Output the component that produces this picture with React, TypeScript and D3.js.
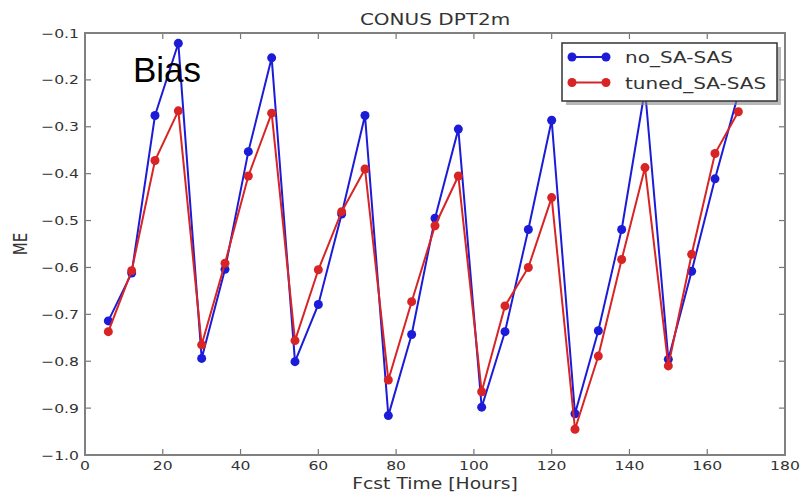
import React from 'react';
import * as d3 from 'd3';

// forecast hours (every 6h)
const hours = [6, 12, 18, 24, 30, 36, 42, 48, 54, 60, 66, 72, 78, 84, 90, 96, 102, 108, 114, 120, 126, 132, 138, 144, 150, 156, 162, 168];

// mean error
const noSaSas = [-0.714, -0.612, -0.276, -0.122, -0.794, -0.604, -0.353, -0.153, -0.801, -0.679, -0.486, -0.276, -0.916, -0.743, -0.495, -0.305, -0.898, -0.737, -0.519, -0.286, -0.912, -0.735, -0.519, -0.22, -0.796, -0.608, -0.411, -0.23];
const tunedSaSas = [-0.737, -0.607, -0.372, -0.266, -0.765, -0.591, -0.405, -0.271, -0.756, -0.605, -0.481, -0.39, -0.84, -0.673, -0.511, -0.405, -0.865, -0.682, -0.6, -0.451, -0.945, -0.789, -0.583, -0.387, -0.81, -0.572, -0.357, -0.268];

const xTicks = [0, 20, 40, 60, 80, 100, 120, 140, 160, 180];
const yTicks = [-1.0, -0.9, -0.8, -0.7, -0.6, -0.5, -0.4, -0.3, -0.2, -0.1];

const seriesList = [
  { name: 'no_SA-SAS', values: noSaSas, color: '#1c1cd8' },
  { name: 'tuned_SA-SAS', values: tunedSaSas, color: '#d82424' },
];

const W = 802;
const H = 498;
const margin = { top: 33, right: 17, bottom: 43, left: 85 };
const SX = 1.25; // the source picture is stretched sideways
const FONT = '"DejaVu Sans", sans-serif';
const TXT = '#333';

const App = () => {
  const x = d3.scaleLinear().domain([0, 180]).range([margin.left, W - margin.right]);
  const y = d3.scaleLinear().domain([-1.0, -0.1]).range([H - margin.bottom, margin.top]);

  const line = d3.line<[number, number]>()
    .x(d => x(d[0]))
    .y(d => y(d[1]));

  const x0 = x(0), x1 = x(180), y0 = y(-1.0), y1 = y(-0.1);
  const tickLen = 6;

  // legend box
  const lg = { x: 562, y: 43, w: 215, h: 58 };

  return (
    <svg width={W} height={H} style={{ position: 'absolute', left: 0, top: 0, background: '#fff' }}>
      {/* series */}
      {seriesList.map(s => {
        const pts = hours.map((h, i) => [h, s.values[i]] as [number, number]);
        return (
          <g key={s.name}>
            <path d={line(pts) || ''} fill="none" stroke={s.color} strokeWidth={2} />
            {pts.map((p, i) => (
              <circle key={i} cx={x(p[0])} cy={y(p[1])} r={4.5} fill={s.color} />
            ))}
          </g>
        );
      })}

      {/* ticks, inward on all sides */}
      <g stroke="#777" strokeWidth={1.2}>
        {xTicks.map(t => (
          <g key={'xt' + t}>
            <line x1={x(t)} x2={x(t)} y1={y0} y2={y0 - tickLen} />
            <line x1={x(t)} x2={x(t)} y1={y1} y2={y1 + tickLen} />
          </g>
        ))}
        {yTicks.map(t => (
          <g key={'yt' + t}>
            <line x1={x0} x2={x0 + tickLen} y1={y(t)} y2={y(t)} />
            <line x1={x1} x2={x1 - tickLen} y1={y(t)} y2={y(t)} />
          </g>
        ))}
      </g>

      {/* frame */}
      <rect x={x0} y={y1} width={x1 - x0} height={y0 - y1} fill="none" stroke="#808080" strokeWidth={2} />

      {/* tick labels */}
      {xTicks.map(t => (
        <text key={'xl' + t} transform={`translate(${x(t)},${y0 + 15}) scale(${SX},1)`}
          textAnchor="middle" fontFamily={FONT} fontSize={12.5} fill={TXT}>{t}</text>
      ))}
      {yTicks.map(t => (
        <text key={'yl' + t} transform={`translate(${x0 - 6},${y(t) + 4.5}) scale(${SX},1)`}
          textAnchor="end" fontFamily={FONT} fontSize={12.5} fill={TXT}>{'\u2212' + Math.abs(t).toFixed(1)}</text>
      ))}

      {/* title and axis labels */}
      <text transform={`translate(${(x0 + x1) / 2},25) scale(${SX},1)`} textAnchor="middle"
        fontFamily={FONT} fontSize={16} fill={TXT}>CONUS DPT2m</text>
      <text transform={`translate(${(x0 + x1) / 2},489) scale(${SX},1)`} textAnchor="middle"
        fontFamily={FONT} fontSize={15} fill={TXT}>Fcst Time [Hours]</text>
      <text transform={`translate(27,${(y0 + y1) / 2}) scale(${SX},1) rotate(-90)`} textAnchor="middle"
        fontFamily={FONT} fontSize={15} fill={TXT}>ME</text>

      {/* legend */}
      <rect x={lg.x + 4} y={lg.y + 4} width={lg.w} height={lg.h} fill="#888" opacity={0.6} />
      <rect x={lg.x} y={lg.y} width={lg.w} height={lg.h} fill="#fff" stroke="#333" strokeWidth={1.5} />
      {seriesList.map((s, i) => {
        const ly = lg.y + 14 + i * 25.5;
        return (
          <g key={'lg' + s.name}>
            <line x1={lg.x + 10} x2={lg.x + 44} y1={ly} y2={ly} stroke={s.color} strokeWidth={2} />
            <circle cx={lg.x + 10} cy={ly} r={4.5} fill={s.color} />
            <circle cx={lg.x + 44} cy={ly} r={4.5} fill={s.color} />
            <text transform={`translate(${lg.x + 63},${ly + 6}) scale(${SX},1)`}
              fontFamily={FONT} fontSize={16} fill={TXT}>{s.name}</text>
          </g>
        );
      })}

      {/* overlay annotation */}
      <text x={133} y={82} fontFamily='"Liberation Sans", Arial, sans-serif' fontSize={35} fill="#000">Bias</text>
    </svg>
  );
};

export default App;
